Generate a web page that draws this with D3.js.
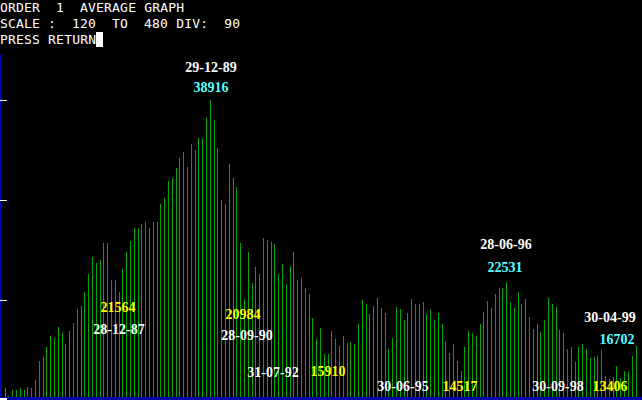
<!DOCTYPE html>
<html>
<head>
<meta charset="utf-8">
<script src="https://cdn.jsdelivr.net/npm/d3@7"></script>
<style>
  body { margin: 0; background: #000; }
  svg { display: block; }
</style>
</head>
<body>
<svg id="chart" width="642" height="400"></svg>
<script>
// average values, one bar per period (scale 120..480)
var averages = [
  131,124,129,129,131,129,132,131,138,155,159,168,178,176,186,180,170,182,189,202,205,217,233,249,243,246,261,261,228,228,217,238,253,263,275,275,278,280,275,280,280,
  296,302,317,320,329,338,343,330,350,345,356,356,374,390,372,347,300,296,332,320,312,261,211,253,225,240,233,266,264,262,260,233,242,224,241,253,228,230,221,215,194,175,185,
  161,161,182,175,169,178,171,172,170,188,210,206,197,205,212,203,198,166,176,204,202,192,198,211,206,206,208,197,201,192,198,188,172,162,170,155,146,168,182,180,178,188,
  199,209,203,215,221,221,226,208,203,217,206,211,195,184,188,181,192,212,206,204,183,180,166,168,154,168,170,166,158,159,160,165,142,139,141,151,140,146,145,160,169
];
var headerLines = ["ORDER  1  AVERAGE GRAPH", "SCALE :  120  TO  480 DIV:  90", "PRESS RETURN"];
var scaleMin = 120, scaleMax = 480, scaleDiv = 90;
var tickValues = [210, 300, 390];

// annotations: date / value pairs
var labels = [
  { text: "29-12-89", color: "#ffffff", x: 211, y: 72 },
  { text: "38916",    color: "#55ffff", x: 211, y: 92 },
  { text: "21564",    color: "#ffff00", x: 118, y: 312 },
  { text: "28-12-87", color: "#ffffff", x: 119, y: 334 },
  { text: "20984",    color: "#ffff00", x: 243, y: 319 },
  { text: "28-09-90", color: "#ffffff", x: 247, y: 340 },
  { text: "31-07-92", color: "#ffffff", x: 273, y: 377 },
  { text: "15910",    color: "#ffff00", x: 328, y: 376 },
  { text: "30-06-95", color: "#ffffff", x: 403, y: 391 },
  { text: "14517",    color: "#ffff00", x: 460, y: 391 },
  { text: "28-06-96", color: "#ffffff", x: 506, y: 249 },
  { text: "22531",    color: "#55ffff", x: 505, y: 272 },
  { text: "30-04-99", color: "#ffffff", x: 610, y: 322 },
  { text: "16702",    color: "#55ffff", x: 617, y: 344 },
  { text: "30-09-98", color: "#ffffff", x: 558, y: 391 },
  { text: "13406",    color: "#ffff00", x: 610, y: 391 }
];

var svg = d3.select("#chart");
svg.append("rect").attr("width", 642).attr("height", 400).attr("fill", "#000");

var x = d3.scalePoint().domain(d3.range(averages.length)).range([4.5, 635.5]);
var y = d3.scaleLinear().domain([scaleMin, scaleMax]).range([400, 400 - (scaleMax - scaleMin) / scaleDiv * 100]);

svg.append("g").selectAll("line").data(averages).join("line")
  .attr("x1", (d, i) => Math.round(x(i)) + 0.5)
  .attr("x2", (d, i) => Math.round(x(i)) + 0.5)
  .attr("y1", y(scaleMin))
  .attr("y2", d => Math.round(y(d)))
  .attr("stroke", "#00a800")
  .attr("stroke-width", 1);

// axes
svg.append("rect").attr("x", 0).attr("y", 54).attr("width", 2).attr("height", 346).attr("fill", "#0000aa");
svg.append("rect").attr("x", 0).attr("y", 397).attr("width", 642).attr("height", 3).attr("fill", "#0000aa");

var axis = svg.append("g")
  .call(d3.axisLeft(y).tickValues(tickValues).tickSize(-7).tickFormat(""));
axis.select(".domain").remove();
axis.selectAll("line").attr("stroke", "#ffffff").attr("shape-rendering", "crispEdges");
svg.append("rect").attr("x", 0).attr("y", 398).attr("width", 7).attr("height", 2).attr("fill", "#fff");

// header
svg.append("g").selectAll("text").data(headerLines).join("text")
  .attr("x", 0)
  .attr("y", (d, i) => 12 + i * 16)
  .attr("fill", "#fff")
  .attr("font-family", "DejaVu Sans Mono, monospace")
  .attr("font-size", 13)
  .style("white-space", "pre")
  .attr("xml:space", "preserve")
  .attr("textLength", d => d.length * 8)
  .text(d => d);
svg.append("rect").attr("x", 96).attr("y", 32).attr("width", 7).attr("height", 15).attr("fill", "#fff");

svg.append("g").selectAll("text").data(labels).join("text")
  .attr("x", d => d.x)
  .attr("y", d => d.y)
  .attr("text-anchor", "middle")
  .attr("fill", d => d.color)
  .attr("font-family", "Liberation Serif, serif")
  .attr("font-weight", "bold")
  .attr("font-size", 14)
  .text(d => d.text);
</script>
</body>
</html>
